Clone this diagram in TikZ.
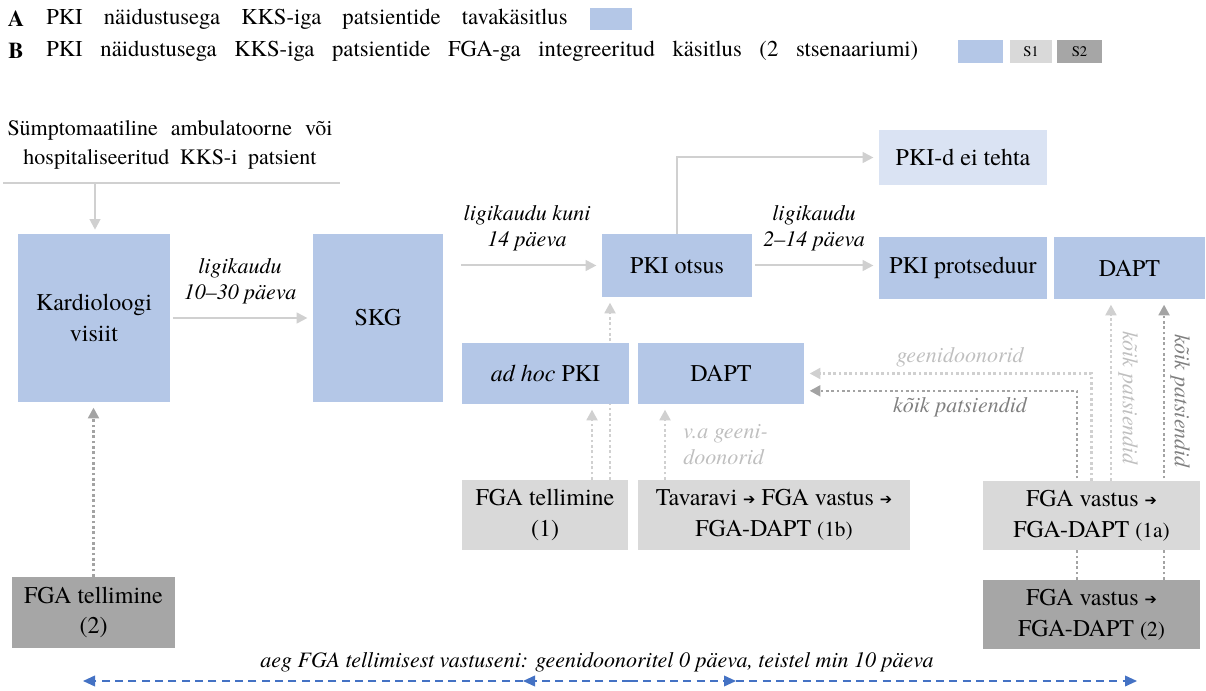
\documentclass[tikz,border=0pt]{standalone}
\usepackage{fontspec}
\setmainfont{TeX Gyre Termes}
\usetikzlibrary{arrows.meta,backgrounds}
\definecolor{cblue}{HTML}{B4C7E7}
\definecolor{clblue}{HTML}{DAE3F3}
\definecolor{clgray}{HTML}{D9D9D9}
\definecolor{cdgray}{HTML}{A6A6A6}
\definecolor{lnlight}{HTML}{D0D0D0}
\definecolor{lndark}{HTML}{A3A3A3}
\definecolor{txlight}{HTML}{BFBFBF}
\definecolor{txdark}{HTML}{7F7F7F}
\definecolor{tblue}{HTML}{4472C4}
\newcommand\boxfont{\fontsize{18pt}{23pt}\selectfont}
\newcommand\lblfont{\fontsize{16.5pt}{19.5pt}\selectfont\itshape}
\newcommand\legfont{\fontsize{17pt}{21pt}\selectfont}
\newcommand\rarr{\raisebox{0.1ex}{\fontspec{DejaVu Sans}\fontsize{11pt}{12pt}\selectfont ➔}}
\begin{document}
\begin{tikzpicture}[x=0.75pt,y=-0.75pt,
  box/.style={draw=none,inner sep=0pt,align=center,font=\boxfont,text=black},
  solidln/.style={draw=lnlight,line width=1.5pt},
  arrtip/.style={-{Triangle[length=8pt,width=8pt]}},
  dotlight/.style={draw=lnlight,line width=2pt,dash pattern=on 2pt off 2pt},
  dotdark/.style={draw=lndark,line width=2pt,dash pattern=on 2pt off 2pt},
  lbl/.style={font=\lblfont,align=center,inner sep=0pt},
  tline/.style={draw=tblue,line width=1.2pt,dash pattern=on 6pt off 4pt,-{Triangle[length=9pt,width=8pt]}}
]
\useasboundingbox (0,0) rectangle (1206,691);

% legend
\node[font=\legfont\bfseries,inner sep=0pt] (legA) at (16,19) {A};
\node[font=\legfont,anchor=west,inner sep=0pt] (legAt) at (46,19) {\makebox[391pt][s]{PKI näidustusega KKS-iga patsientide tavakäsitlus}};
\node[box,fill=cblue,minimum width=31.5pt,minimum height=16.5pt] (legAb) at (611,19) {};
\node[font=\legfont\bfseries,inner sep=0pt] (legB) at (16,51) {B};
\node[font=\legfont,anchor=west,inner sep=0pt] (legBt) at (46,51) {\makebox[654pt][s]{PKI näidustusega KKS-iga patsientide FGA-ga integreeritud käsitlus (2 stsenaariumi)}};
\node[box,fill=cblue,minimum width=33.75pt,minimum height=17.25pt] (legBb) at (980.5,51.5) {};
\node[box,fill=clgray,minimum width=31.5pt,minimum height=17.25pt,font=\fontsize{11pt}{12pt}\selectfont] (legS1) at (1031,51.5) {S1};
\node[box,fill=cdgray,minimum width=33.75pt,minimum height=17.25pt,font=\fontsize{11pt}{12pt}\selectfont] (legS2) at (1079.5,51.5) {S2};

% start text
\node[font=\fontsize{16.5pt}{21.5pt}\selectfont,align=center,inner sep=0pt] (start) at (170,145) {\makebox[243.75pt][s]{Sümptomaatiline ambulatoorne või}\\\makebox[219.75pt][s]{hospitaliseeritud KKS-i patsient}};
\coordinate (hl) at (3,183);
\coordinate (hr) at (340,183);
\coordinate (hm) at (95,183);

% boxes
\node[box,fill=cblue,minimum width=114pt,minimum height=126pt] (kard) at (94,318) {Kardioloogi\\visiit};
\node[box,fill=cblue,minimum width=97.5pt,minimum height=126pt] (skg) at (378,318) {SKG};
\node[box,fill=cblue,minimum width=112.5pt,minimum height=47.25pt] (otsus) at (677,265.5) {PKI otsus};
\node[box,fill=clblue,minimum width=126pt,minimum height=41.25pt] (eitehta) at (963,157.5) {PKI-d ei tehta};
\node[box,fill=cblue,minimum width=126pt,minimum height=46.5pt] (prots) at (963,268) {PKI protseduur};
\node[box,fill=cblue,minimum width=113.25pt,minimum height=46.5pt] (dapta) at (1129.5,268) {DAPT};
\node[box,fill=cblue,minimum width=125.25pt,minimum height=45.75pt] (adhoc) at (545.5,373.5) {\textit{ad hoc} PKI};
\node[box,fill=cblue,minimum width=124.5pt,minimum height=45.75pt] (daptb) at (721,373.5) {DAPT};
\node[box,fill=clgray,minimum width=124.5pt,minimum height=52.5pt] (fgaone) at (545,515) {FGA tellimine\\(1)};
\node[box,fill=clgray,minimum width=204pt,minimum height=52.5pt] (tav) at (774,515) {Tavaravi \rarr{} FGA vastus \rarr\\FGA-DAPT {\fontsize{16pt}{20pt}\selectfont(1b)}};
\node[box,fill=clgray,minimum width=162.75pt,minimum height=51.75pt] (fgaonea) at (1091.5,515.5) {FGA vastus \rarr\\FGA-DAPT {\fontsize{16pt}{20pt}\selectfont(1a)}};
\node[box,fill=cdgray,minimum width=162.75pt,minimum height=51.75pt] (fgatwor) at (1091.5,614.5) {FGA vastus \rarr\\FGA-DAPT {\fontsize{16pt}{20pt}\selectfont(2)}};
\node[box,fill=cdgray,minimum width=122.25pt,minimum height=53.25pt] (fgatwol) at (93.5,612.5) {FGA tellimine\\(2)};

% labels
\node[lbl] (l1) at (240,281) {ligikaudu\\10–30 päeva};
\node[lbl] (l2) at (527,228) {ligikaudu kuni\\14 päeva};
\node[lbl] (l3) at (814,228) {ligikaudu\\2–14 päeva};
\node[lbl,text=txlight,anchor=west,align=left] (l4) at (683,445) {v.a geeni-\\doonorid};
\node[lbl,text=txlight] (l5) at (960,357) {geenidoonorid};
\node[lbl,text=txdark] (l6) at (960,407) {kõik patsiendid};
\node[lbl,text=txlight,rotate=-90] (l7) at (1128,398) {kõik patsiendid};
\node[lbl,text=txdark,rotate=-90] (l8) at (1180,401) {kõik patsiendid};
\node[lbl,font=\fontsize{16.5pt}{19.5pt}\selectfont\itshape] (l9) at (597,662) {aeg FGA tellimisest vastuseni: geenidoonoritel 0 päeva, teistel min 10 päeva};

% connectors
\begin{scope}[on background layer]
\draw[solidln] (hl) -- (hr);
\draw[solidln,arrtip,shorten >=3pt] (hm) -- (hm |- kard.north);
\draw[solidln,arrtip,shorten <=2pt,shorten >=4pt] (kard.east) -- (skg.west);
\draw[solidln,arrtip,shorten <=13.5pt,shorten >=4pt] (skg.east |- otsus.west) -- (otsus.west);
\draw[solidln,arrtip,shorten >=4pt] (otsus.north) -- (otsus.north |- eitehta.west) -- (eitehta.west);
\draw[solidln,arrtip,shorten <=2pt,shorten >=4pt] (otsus.east) -- (otsus.east -| prots.west);
\draw[dotlight,arrtip,shorten >=4pt] ([xshift=35.25pt]fgaone.north) -- ([xshift=35.25pt]fgaone.north |- adhoc.south);
\draw[dotlight,arrtip,shorten >=4pt] ([xshift=48.75pt]fgaone.north) -- ([xshift=48.75pt]fgaone.north |- otsus.south);
\draw[dotlight,arrtip,shorten >=4pt] ([xshift=-81.75pt]tav.north) -- ([xshift=-81.75pt]tav.north |- daptb.south);
\draw[dotlight,arrtip,shorten >=4pt] (fgaonea.north) |- (daptb.east);
\draw[dotdark,arrtip,shorten >=4pt] ([xshift=-10.9pt]fgatwor.north) |- ([yshift=-13pt]daptb.east);
\draw[dotlight,arrtip,shorten >=4pt] ([xshift=14.6pt]fgaonea.north) -- ([xshift=14.6pt]fgaonea.north |- dapta.south);
\draw[dotdark,arrtip,shorten >=4pt] ([xshift=54.4pt]fgatwor.north) -- ([xshift=54.4pt]fgatwor.north |- dapta.south);
\draw[dotdark,arrtip,shorten >=4pt] (fgatwol.north) -- (fgatwol.north |- kard.south);
\end{scope}

% timeline
\coordinate (tl) at (83,681);
\coordinate (tma) at (523,681);
\coordinate (tc) at (630,681);
\coordinate (tmb) at (736,681);
\coordinate (tr) at (1137,681);
\draw[tline] (tc) -- (tma);
\draw[tline] (tma) -- (tl);
\draw[tline] (tc) -- (tmb);
\draw[tline] (tmb) -- (tr);
\end{tikzpicture}
\end{document}
